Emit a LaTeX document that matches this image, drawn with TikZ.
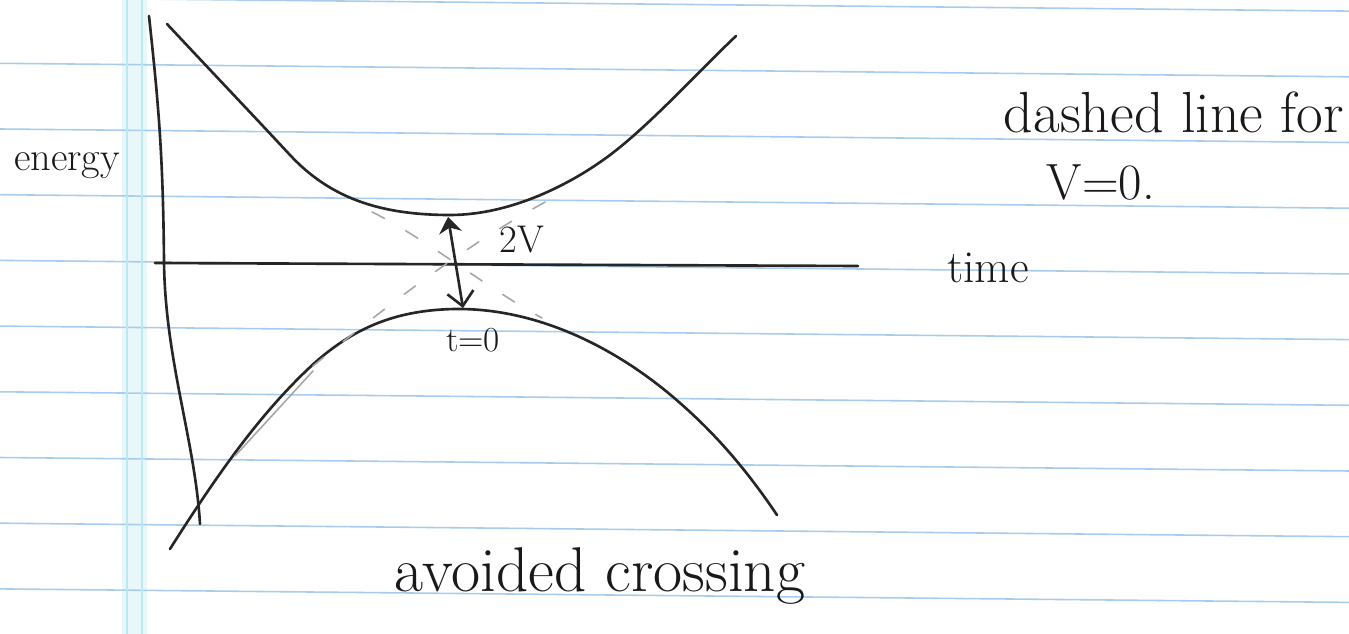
\documentclass[tikz,border=0pt]{standalone}
\usetikzlibrary{arrows.meta}
\definecolor{ruleblue}{RGB}{168,204,238}
\definecolor{margincyan}{RGB}{188,232,242}
\begin{document}
\begin{tikzpicture}
[x=0.02cm, y=-0.02cm, line cap=round, line join=round]
\tikzstyle{pen}=[line width=1.5pt, draw=black!85]
\tikzstyle{faint}=[line width=0.9pt, draw=black!35, dash pattern=on 8pt off 14pt]
\tikzstyle{rule}=[line width=0.9pt, draw=ruleblue]
\tikzstyle{hand}=[inner sep=0pt, anchor=base, text=black!90]
\useasboundingbox (0,0) rectangle (1349,634);

% ruled paper
\fill[margincyan!35] (122,0) rectangle (147,634);
\foreach \n in {0,...,9}
  \draw[rule] (0,{-2.4+65.7*\n}) -- (1349,{11.1+65.7*\n});
\draw[margincyan, line width=1pt] (127,0) -- (127,634);
\draw[margincyan, line width=1pt] (142,0) -- (142,634);

% axes
\coordinate (Etop) at (149,16);
\coordinate (Ebot) at (200,524);
\coordinate (Tstart) at (155,263);
\coordinate (Tend) at (858,266);
\draw[pen] (Etop) .. controls (158,100) and (163,150) .. (164,261)
  .. controls (165,360) and (195,440) .. (Ebot);
\draw[pen] (Tstart) -- (Tend);

% adiabatic curves
\draw[pen] (167,24) .. controls (210,70) and (250,112) .. (290,155)
  .. controls (330,198) and (380,215) .. (450,215)
  .. controls (510,215) and (570,185) .. (610,155)
  .. controls (650,125) and (700,70) .. (736,36);
\draw[pen] (170,549) .. controls (220,470) and (260,415) .. (307,370)
  .. controls (354,325) and (400,310) .. (455,309)
  .. controls (540,308) and (620,350) .. (680,403)
  .. controls (720,438) and (750,475) .. (777,515);

% crossing for V=0
\draw[line width=0.9pt, draw=black!35] (235,456) -- (313,371);
\draw[faint] (313,366) .. controls (400,295) and (480,235) .. (566,191);
\draw[faint] (372,212) .. controls (420,235) and (490,290) .. (542,318);

% gap
\coordinate (gapTop) at (448,217);
\coordinate (gapBot) at (463,308);
\draw[pen, {Stealth[length=9pt,width=13pt]}-{Straight Barb[length=8pt,width=15pt]}] (gapTop) -- (gapBot);

% labels
\node[hand, font=\fontsize{23}{28}\selectfont] (energy) at (67,171) {energy};
\node[hand, font=\fontsize{33}{40}\selectfont] (note) at (1174,133) {dashed line for};
\node[hand, font=\fontsize{29}{35}\selectfont] (noteV) at (1101,200) {V=0.};
\node[hand, font=\fontsize{26}{31}\selectfont] (time) at (988,283) {time};
\node[hand, font=\fontsize{22}{26}\selectfont] (gap) at (522,253) {2V};
\node[hand, font=\fontsize{20}{24}\selectfont] (tzero) at (473,352) {t=0};
\node[hand, font=\fontsize{36}{43}\selectfont] (caption) at (600,592) {avoided crossing};
\end{tikzpicture}
\end{document}
